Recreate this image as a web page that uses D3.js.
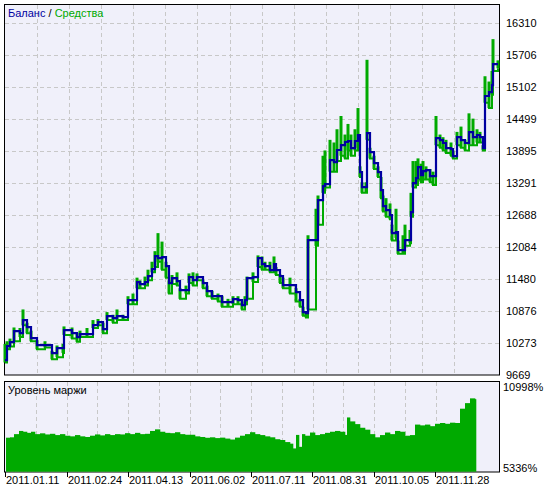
<!DOCTYPE html>
<html><head><meta charset="utf-8">
<script src="https://cdn.jsdelivr.net/npm/d3@7"></script>
<style>body{margin:0;background:#fff}svg{display:block;font-family:"Liberation Sans",Arial,sans-serif}</style>
</head><body><svg width="545" height="489"></svg>
<script>
// balance / equity, positions are bar index along the top panel
var pos =    [0,2,5,9,15,18,22,26,32,40,47,52,58,59,67,72,75,82,88,93,98,102,108,112,118,123,128,132,135,140,143,147,150,153,157,161,164,167,172,175,181,184,188,192,198,202,207,213,217,223,228,233,237,240,242,248,253,257,260,265,269,271,275,278,285,291,295,298,301,303,311,313,318,320,325,329,332,336,340,343,346,350,353,355,357,361,362,365,369,373,376,378,381,385,387,391,393,398,400,405,406,408,411,413,416,418,421,425,428,431,435,438,441,446,448,452,456,460,464,468,472,475,478,480,484,487,488,493];
var balance = [9945,10209,10284,10492,10454,10700,10568,10360,10228,10228,10077,10171,10171,10511,10454,10379,10435,10435,10605,10662,10530,10775,10737,10775,10756,11077,11077,11417,11379,11417,11530,11662,11907,11870,11888,11719,11398,11492,11436,11266,11266,11511,11454,11511,11398,11247,11153,11153,11039,11039,11096,11077,10983,11077,11492,11511,11870,11756,11719,11643,11756,11643,11530,11360,11360,11228,11077,10851,10832,12209,12209,12964,13228,13266,13719,13681,13908,14002,14059,14078,13945,14078,14191,13492,13209,13209,14228,13870,13662,13492,13153,12851,12775,12681,12341,12360,12021,12021,12209,12209,12738,13285,13379,13587,13436,13511,13530,13417,13417,14134,14096,14040,13945,13926,13794,14151,14096,14040,14247,14153,14191,14153,13945,14927,15002,15134,15530,15530];
var eqHigh =  [10250,10300,10350,10560,10550,10900,10650,10500,10320,10300,10120,10220,10250,10580,10560,10450,10500,10550,10700,10720,10650,10850,10800,10900,10800,11150,11200,11500,11450,11520,11650,11800,12000,12340,12180,11800,11450,11550,11600,11300,11350,11580,11600,11580,11450,11350,11250,11200,11150,11100,11150,11150,11050,11150,11520,11600,11920,11900,11800,11800,11900,11700,11560,11500,11500,11300,11100,10950,10870,12300,12800,13050,13800,13900,14100,14050,14300,14550,14200,14400,14200,14300,14700,13600,13300,13300,15610,13950,13800,13600,13400,13050,13000,12900,12500,12800,12200,12300,12500,12400,13100,13700,13700,13750,13650,13700,13600,13550,13500,14550,14200,14150,14100,14050,13900,14250,14350,14100,14600,14500,14300,14250,14000,15300,15200,15400,16000,15600];
var eqLow =   [9900,10150,10200,10300,10380,10600,10450,10300,10150,10180,9960,10000,10080,10420,10350,10290,10380,10380,10550,10600,10450,10700,10650,10700,10700,11000,11000,11300,11300,11350,11450,11600,11700,11800,11650,11500,11200,11380,11350,11100,11200,11400,11350,11450,11300,11150,11100,11050,10950,10950,11000,11000,10900,11000,11100,11420,11700,11650,11650,11600,11650,11550,11400,11300,11200,11050,10950,10780,10750,10900,12100,12500,13100,13200,13500,13500,13700,13800,13750,13900,13800,13900,13950,13400,13100,13100,14100,13750,13550,13400,13000,12750,12650,12600,12200,12250,11950,11950,12100,12150,12650,13200,13250,13350,13300,13350,13350,13300,13250,14000,13950,13900,13850,13800,13750,14000,13950,13900,14000,14000,14050,14050,13900,14800,14700,14950,15400,15450];
var balTicks = [9669,10273,10876,11480,12084,12688,13291,13895,14499,15102,15706,16310];

// margin level, positions along the bottom panel
var marginPos = [1,5,9,14,18,22,26,30,35,40,45,50,55,60,65,70,75,80,85,90,95,100,105,110,115,120,125,130,135,140,145,150,155,160,165,170,175,180,185,190,195,200,205,210,215,220,225,230,235,240,245,250,255,260,265,270,275,280,285,288,291,294,297,300,305,310,315,320,325,330,335,340,342,345,350,355,360,365,370,375,380,385,390,395,400,405,410,415,420,425,430,435,440,445,450,455,460,465,470,471];
var marginLevel = [7475,7500,7700,7900,7850,7780,7850,7700,7750,7680,7720,7640,7700,7600,7560,7640,7560,7520,7600,7680,7620,7700,7640,7700,7680,7760,7700,7780,7700,7720,7900,8000,7850,7780,7760,7820,7700,7660,7660,7560,7520,7470,7500,7450,7480,7420,7360,7480,7600,7700,7820,7700,7640,7560,7500,7380,7330,7200,7100,6800,7650,6900,7700,7600,7800,7640,7700,7780,7850,7900,7850,7650,8750,8500,8330,8100,7980,7700,7500,7640,7800,7700,7900,7850,7600,7640,8300,8250,8300,8200,8350,8400,8350,8420,8400,9300,9650,9950,9900,9900];
var dateLabels = ["2011.01.11","2011.02.24","2011.04.13","2011.06.02","2011.07.11","2011.08.31","2011.10.05","2011.11.28"];
var datePos = [0,62,123,185,246,307,369,430];

var svg = d3.select("svg");
var bg = "#f0f0fa", grid = "#c8c8c8", green = "#00aa00", blue = "#0000a0";

// top panel
var x = d3.scaleLinear().domain([0, 492]).range([5, 497]);
var y = d3.scaleLinear().domain([9669, 16310]).range([374.7, 22.7]);
svg.append("rect").attr("x", 4.5).attr("y", 4.5).attr("width", 495).attr("height", 370.5)
  .attr("fill", bg).attr("stroke", "#000");

svg.append("g").selectAll("line").data(balTicks.slice(1)).enter().append("line")
  .attr("x1", 5).attr("x2", 499).attr("y1", d => Math.round(y(d)) + 0.5).attr("y2", d => Math.round(y(d)) + 0.5)
  .attr("stroke", grid).attr("stroke-dasharray", "4,3");
svg.append("g").selectAll("line").data(d3.range(1, 15)).enter().append("line")
  .attr("x1", d => Math.round(4.8 + d * 32.1) + 0.5).attr("x2", d => Math.round(4.8 + d * 32.1) + 0.5)
  .attr("y1", 5).attr("y2", 374).attr("stroke", grid).attr("stroke-dasharray", "4,3");

// equity bars
svg.append("g").selectAll("line").data(pos).enter().append("line")
  .attr("x1", d => x(d)).attr("x2", d => x(d))
  .attr("y1", (d, i) => y(eqHigh[i])).attr("y2", (d, i) => y(eqLow[i]))
  .attr("stroke", green).attr("stroke-width", 3);
var eqLine = d3.line().x((d, i) => x(pos[i])).y(d => y(d)).curve(d3.curveStepAfter);
svg.append("path").attr("d", eqLine(eqLow))
  .attr("fill", "none").attr("stroke", green).attr("stroke-width", 2);

var balLine = d3.line().x((d, i) => x(pos[i])).y(d => y(d)).curve(d3.curveStepAfter);
svg.append("path").attr("d", balLine(balance)).attr("fill", "none")
  .attr("stroke", blue).attr("stroke-width", 2.2);

svg.append("g").selectAll("text").data(balTicks).enter().append("text")
  .attr("x", 506).attr("y", d => y(d) + 4).attr("font-size", 11).attr("fill", "#000").text(d => d);

var title = svg.append("text").attr("x", 8).attr("y", 17).attr("font-size", 11);
title.append("tspan").attr("fill", blue).text("Баланс");
title.append("tspan").attr("fill", "#000").text(" / ");
title.append("tspan").attr("fill", green).text("Средства");

// bottom panel
var x2 = d3.scaleLinear().domain([0, 471]).range([5, 476]);
var y2 = d3.scaleLinear().domain([5336, 10998]).range([471.7, 381.7]);
svg.append("rect").attr("x", 4.5).attr("y", 381.5).attr("width", 495).attr("height", 90.5)
  .attr("fill", bg).attr("stroke", "#000");
svg.append("g").selectAll("line").data(d3.range(1, 15)).enter().append("line")
  .attr("x1", d => Math.round(5 + d * 30.75) + 0.5).attr("x2", d => Math.round(5 + d * 30.75) + 0.5)
  .attr("y1", 382).attr("y2", 471).attr("stroke", grid).attr("stroke-dasharray", "4,3");
svg.append("g").selectAll("rect").data(marginLevel.slice(0, -1)).enter().append("rect")
  .attr("x", (d, i) => x2(marginPos[i]))
  .attr("width", (d, i) => x2(marginPos[i + 1]) - x2(marginPos[i]) + 0.3)
  .attr("y", d => y2(d)).attr("height", d => 471.7 - y2(d)).attr("fill", green);
svg.append("text").attr("x", 8).attr("y", 394).attr("font-size", 11).text("Уровень маржи");
svg.append("text").attr("x", 503).attr("y", 391).attr("font-size", 11).text("10998%");
svg.append("text").attr("x", 503).attr("y", 472).attr("font-size", 11).text("5336%");

// date axis
svg.append("g").selectAll("line").data(datePos).enter().append("line")
  .attr("x1", d => Math.round(x2(d)) + 0.5).attr("x2", d => Math.round(x2(d)) + 0.5)
  .attr("y1", 472).attr("y2", 477).attr("stroke", "#000");
svg.append("g").selectAll("text").data(datePos).enter().append("text")
  .attr("x", d => x2(d) + 1).attr("y", 484).attr("font-size", 11).text((d, i) => dateLabels[i]);
</script></body></html>
